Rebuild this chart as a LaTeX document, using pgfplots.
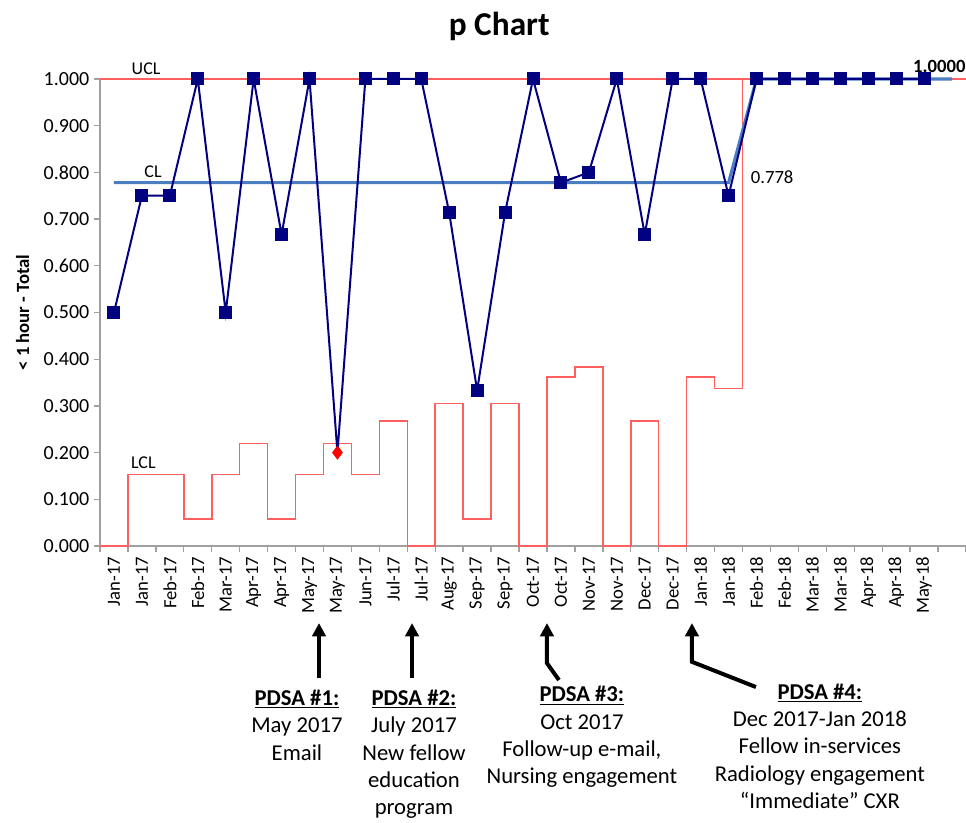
\documentclass[border=0pt]{standalone}
\usepackage{pgfplots}
\pgfplotsset{compat=1.18}
\usepackage{pgfplotstable}
\usepackage{fontspec}
\setmainfont{Carlito}
\usetikzlibrary{arrows.meta}

\definecolor{navy}{RGB}{0,0,128}
\definecolor{clblue}{RGB}{74,126,193}
\definecolor{limred}{RGB}{255,95,95}
\definecolor{axgray}{RGB}{160,160,160}

% idx: category position, p: proportion, cl/ucl/lcl: control limits
\pgfplotstableread{
idx p     cl    ucl lcl
0   0.500 0.778 1   0.000
1   0.750 0.778 1   0.153
2   0.750 0.778 1   0.153
3   1.000 0.778 1   0.058
4   0.500 0.778 1   0.153
5   1.000 0.778 1   0.219
6   0.667 0.778 1   0.058
7   1.000 0.778 1   0.153
8   0.200 0.778 1   0.219
9   1.000 0.778 1   0.153
10  1.000 0.778 1   0.268
11  1.000 0.778 1   0.000
12  0.714 0.778 1   0.305
13  0.333 0.778 1   0.058
14  0.714 0.778 1   0.305
15  1.000 0.778 1   0.000
16  0.778 0.778 1   0.362
17  0.800 0.778 1   0.383
18  1.000 0.778 1   0.000
19  0.667 0.778 1   0.268
20  1.000 0.778 1   0.000
21  1.000 0.778 1   0.362
22  0.750 0.778 1   0.337
23  1.000 1.000 1   1.000
24  1.000 1.000 1   1.000
25  1.000 1.000 1   1.000
26  1.000 1.000 1   1.000
27  1.000 1.000 1   1.000
28  1.000 1.000 1   1.000
29  1.000 1.000 1   1.000
30  nan   1.000 1   1.000
31  nan   nan   1   1.000
}\datatable

\begin{document}
\begin{tikzpicture}
\begin{axis}[
    scale only axis,
    width=649.5pt, height=350.25pt,
    xmin=-0.5, xmax=30.5,
    ymin=0, ymax=1,
    clip=false,
    unbounded coords=jump,
    axis x line=bottom, axis y line=left,
    axis line style={-, axgray, line width=1.1pt},
    tick align=outside,
    major tick length=4.5pt,
    major tick style={axgray, line width=1pt},
    xtick={-0.5,0.5,...,30.5},
    x tick label as interval,
    xticklabels={Jan-17,Jan-17,Feb-17,Feb-17,Mar-17,Apr-17,Apr-17,May-17,May-17,Jun-17,Jul-17,Jul-17,Aug-17,Sep-17,Sep-17,Oct-17,Oct-17,Nov-17,Nov-17,Dec-17,Dec-17,Jan-18,Jan-18,Feb-18,Feb-18,Mar-18,Mar-18,Apr-18,Apr-18,May-18,{}},
    xticklabel style={rotate=90, anchor=east, font=\fontsize{14}{16}\selectfont},
    ytick={0,0.1,0.2,0.3,0.4,0.5,0.6,0.7,0.8,0.9,1.0},
    yticklabels={0.000,0.100,0.200,0.300,0.400,0.500,0.600,0.700,0.800,0.900,1.000},
    yticklabel style={font=\fontsize{15}{17}\selectfont},
    ylabel={< 1 hour - Total},
    ylabel shift=4pt,
    ylabel style={font=\bfseries\fontsize{14}{16}\selectfont},
]
% control limits
\addplot[limred, line width=1.15pt, const plot mark left]
    table[x expr=\thisrow{idx}-0.5, y=ucl] {\datatable};
\addplot[limred, line width=1.15pt, const plot mark left]
    table[x expr=\thisrow{idx}-0.5, y=lcl] {\datatable};
\addplot[clblue, line width=2.3pt, no marks] table[x=idx, y=cl] {\datatable};
% proportions
\addplot[navy, line width=1.5pt, mark=square*, mark size=4.5pt,
    mark options={fill=navy, line width=0pt},
    mark indices={1,2,3,4,5,6,7,8,10,11,12,13,14,15,16,17,18,19,20,21,22,23,24,25,26,27,28,29,30}]
    table[x=idx, y=p] {\datatable};
\addplot[only marks, red, mark=diamond*, mark size=5pt] coordinates {(8,0.200)};

\node[font=\bfseries\fontsize{25}{30}\selectfont, anchor=base] at (axis cs:13.79,1.094) {p Chart};
\node[font=\fontsize{13.5}{15}\selectfont, anchor=base] at (axis cs:1.15,1.009) {UCL};
\node[font=\fontsize{13.5}{15}\selectfont, anchor=base] at (axis cs:1.4,0.790) {CL};
\node[font=\fontsize{13.5}{15}\selectfont, anchor=base] at (axis cs:1.05,0.165) {LCL};
\node[font=\fontsize{14}{16}\selectfont, anchor=base west, inner sep=0pt] at (axis cs:22.79,0.777) {0.778};
\node[font=\bfseries\fontsize{14}{16}\selectfont, anchor=base west, inner sep=0pt] at (axis cs:28.6,1.013) {1.0000};

% PDSA annotations
\draw[line width=3pt, -{Triangle[width=10pt,length=10pt]}] (axis cs:7.34,-0.283) -- (axis cs:7.34,-0.165);
\draw[line width=3pt, -{Triangle[width=10pt,length=10pt]}] (axis cs:10.67,-0.283) -- (axis cs:10.67,-0.165);
\draw[line width=3pt, -{Triangle[width=10pt,length=10pt]}] (axis cs:15.93,-0.287) -- (axis cs:15.50,-0.251) -- (axis cs:15.50,-0.165);
\draw[line width=3pt, -{Triangle[width=10pt,length=10pt]}] (axis cs:22.98,-0.302) -- (axis cs:20.69,-0.248) -- (axis cs:20.69,-0.165);

\node[font=\fontsize{17}{20.5}\selectfont, align=center, anchor=north, inner sep=0pt] at (axis cs:6.55,-0.308)
    {\underline{\textbf{PDSA \#1:}}\\May 2017\\Email};
\node[font=\fontsize{17}{20.5}\selectfont, align=center, anchor=north, inner sep=0pt] at (axis cs:10.74,-0.308)
    {\underline{\textbf{PDSA \#2:}}\\July 2017\\New fellow\\education\\program};
\node[font=\fontsize{17}{20.5}\selectfont, align=center, anchor=north, inner sep=0pt] at (axis cs:16.75,-0.300)
    {\underline{\textbf{PDSA \#3:}}\\Oct 2017\\Follow-up e-mail,\\Nursing engagement};
\node[font=\fontsize{17}{20.5}\selectfont, align=center, anchor=north, inner sep=0pt] at (axis cs:25.27,-0.294)
    {\underline{\textbf{PDSA \#4:}}\\Dec 2017-Jan 2018\\Fellow in-services\\Radiology engagement\\“Immediate” CXR};
\end{axis}
\pgfresetboundingbox
\path[use as bounding box] (-75pt,-207.75pt) rectangle (649.5pt,409.5pt);
\end{tikzpicture}
\end{document}
